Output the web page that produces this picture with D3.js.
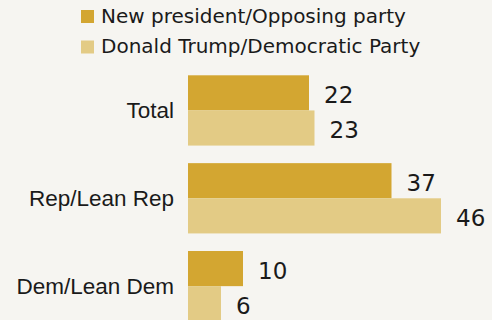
<!DOCTYPE html>
<html>
<head>
<meta charset="utf-8">
<script src="https://cdn.jsdelivr.net/npm/d3@7"></script>
<style>
  html, body { margin: 0; padding: 0; background: #f6f5f1; }
  svg { display: block; }
</style>
</head>
<body>
<svg id="chart" width="492" height="320"></svg>
<script>
// Grouped horizontal bars: two series per respondent group
const categories = ["Total", "Rep/Lean Rep", "Dem/Lean Dem"];
const seriesNames = ["New president/Opposing party", "Donald Trump/Democratic Party"];
const newPresidentValues = [22, 37, 10];
const trumpDemValues = [23, 46, 6];
const seriesColors = ["#d3a631", "#e3cb85"];

const seriesValues = [newPresidentValues, trumpDemValues];
const rows = categories.map((c, i) => ({
  category: c,
  values: seriesNames.map((s, j) => ({ series: s, value: seriesValues[j][i], idx: j }))
}));

const svg = d3.select("#chart");

const x = d3.scaleLinear().domain([0, 50]).range([188, 463]);

const y = d3.scaleBand()
  .domain(categories)
  .range([75.3, 338.85])
  .paddingInner(0.2)
  .paddingOuter(0.1)
  .align(0);

const ySub = d3.scaleBand()
  .domain(seriesNames)
  .range([0, y.bandwidth()])
  .padding(0);

const color = d3.scaleOrdinal().domain(seriesNames).range(seriesColors);

// Legend
const legend = svg.append("g").attr("class", "legend");
const legendRows = [
  { name: seriesNames[0], y: 10, baseline: 22.5 },
  { name: seriesNames[1], y: 40.5, baseline: 52.5 }
];
legend.selectAll("rect")
  .data(legendRows)
  .join("rect")
  .attr("x", 81)
  .attr("y", d => d.y)
  .attr("width", 13)
  .attr("height", 13)
  .attr("fill", d => color(d.name));
legend.selectAll("text")
  .data(legendRows)
  .join("text")
  .attr("x", 101)
  .attr("y", d => d.baseline)
  .attr("font-family", "DejaVu Sans, sans-serif")
  .attr("font-size", 20)
  .attr("fill", "#1a1a1a")
  .text(d => d.name);

// Category labels
svg.append("g")
  .selectAll("text")
  .data(rows)
  .join("text")
  .attr("x", 174)
  .attr("y", d => y(d.category) + y.bandwidth() / 2 + 8)
  .attr("text-anchor", "end")
  .attr("font-family", "Liberation Sans, Arial, sans-serif")
  .attr("font-size", 22.5)
  .attr("fill", "#1a1a1a")
  .text(d => d.category);

// Bars and value labels
const groups = svg.append("g")
  .selectAll("g")
  .data(rows)
  .join("g")
  .attr("transform", d => `translate(0,${y(d.category)})`);

groups.selectAll("rect")
  .data(d => d.values)
  .join("rect")
  .attr("x", x(0))
  .attr("y", d => ySub(d.series))
  .attr("width", d => x(d.value) - x(0))
  .attr("height", ySub.bandwidth())
  .attr("fill", d => color(d.series));

groups.selectAll("text")
  .data(d => d.values)
  .join("text")
  .attr("x", d => x(d.value) + 15)
  .attr("y", d => ySub(d.series) + ySub.bandwidth() / 2 + 10)
  .attr("font-family", "DejaVu Sans, sans-serif")
  .attr("font-size", 23)
  .attr("fill", "#1a1a1a")
  .text(d => d.value);
</script>
</body>
</html>
